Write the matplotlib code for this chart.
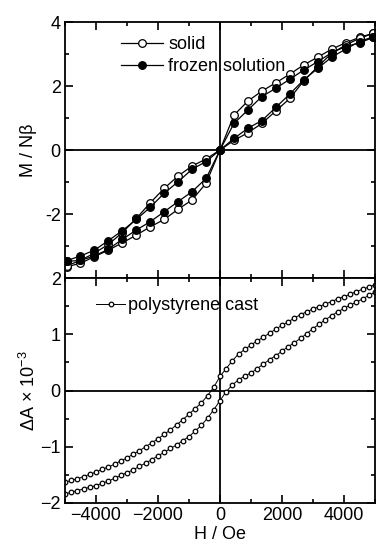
import matplotlib
matplotlib.use("Agg")
from matplotlib import pyplot as plt
from matplotlib.ticker import MultipleLocator
import numpy as np

plt.rcParams['font.family'] = ['Liberation Sans', 'DejaVu Sans']
plt.rcParams['mathtext.default'] = 'regular'

# magnetisation loops, field grid in Oe
H_top = [-4950, -4500, -4050, -3600, -3150, -2700, -2250, -1800, -1350, -900, -450, 0,
         450, 900, 1350, 1800, 2250, 2700, 3150, 3600, 4050, 4500, 4950]

solid_a = [-3.65, -3.54, -3.33, -3.13, -2.90, -2.66, -2.40, -2.17, -1.85, -1.56, -1.04, 0,
           1.09, 1.53, 1.84, 2.10, 2.37, 2.66, 2.90, 3.15, 3.35, 3.52, 3.65]
solid_b = [-3.62, -3.45, -3.22, -2.95, -2.58, -2.14, -1.65, -1.20, -0.81, -0.50, -0.28, 0,
           0.30, 0.54, 0.83, 1.22, 1.61, 2.16, 2.60, 3.02, 3.28, 3.49, 3.65]
frozen_a = [-3.48, -3.45, -3.31, -3.10, -2.79, -2.50, -2.24, -1.93, -1.61, -1.30, -0.89, 0,
            0.83, 1.25, 1.67, 1.93, 2.21, 2.50, 2.76, 3.04, 3.23, 3.35, 3.52]
frozen_b = [-3.46, -3.31, -3.13, -2.83, -2.52, -2.17, -1.79, -1.35, -0.99, -0.60, -0.36, 0,
            0.36, 0.68, 0.92, 1.33, 1.75, 2.19, 2.55, 2.90, 3.15, 3.39, 3.54]

# MCD loop of the polystyrene cast film
H_bot = list(range(-5000, 5001, 200))
cast_up = [-1.63, -1.60, -1.57, -1.53, -1.49, -1.45, -1.40, -1.36, -1.31, -1.25,
           -1.20, -1.13, -1.07, -1.00, -0.93, -0.86, -0.78, -0.70, -0.61, -0.52,
           -0.42, -0.32, -0.22, -0.09, 0.06, 0.25, 0.39, 0.53, 0.65, 0.73,
           0.81, 0.88, 0.95, 1.02, 1.09, 1.16, 1.22, 1.29, 1.35, 1.40,
           1.45, 1.49, 1.54, 1.58, 1.63, 1.67, 1.71, 1.76, 1.80, 1.84, 1.88]
cast_dn = [-1.84, -1.81, -1.78, -1.75, -1.72, -1.69, -1.65, -1.61, -1.56, -1.51,
           -1.46, -1.41, -1.35, -1.29, -1.23, -1.16, -1.10, -1.03, -0.97, -0.89,
           -0.82, -0.72, -0.62, -0.49, -0.34, -0.18, -0.02, 0.10, 0.19, 0.26,
           0.31, 0.39, 0.47, 0.55, 0.62, 0.70, 0.78, 0.85, 0.93, 1.01,
           1.10, 1.18, 1.26, 1.33, 1.40, 1.46, 1.52, 1.57, 1.63, 1.69, 1.75]

fig = plt.figure(figsize=(3.77, 5.49), dpi=100)
ax1 = fig.add_axes([0.1724, 0.4936, 0.8223, 0.4663])
ax2 = fig.add_axes([0.1724, 0.0838, 0.8223, 0.4098])

fs = 13
for ax in (ax1, ax2):
    ax.axhline(0, color='k', lw=1.3, zorder=1)
    ax.axvline(0, color='k', lw=1.3, zorder=1)
    ax.set_xlim(-5000, 5000)
    ax.xaxis.set_major_locator(MultipleLocator(2000))
    ax.xaxis.set_minor_locator(MultipleLocator(1000))
    ax.tick_params(which='both', direction='in', top=True, right=True,
                   width=1.2, labelsize=fs, pad=3)
    ax.tick_params(which='major', length=5.5)
    ax.tick_params(which='minor', length=3)
    for s in ax.spines.values():
        s.set_linewidth(1.3)

# top panel
mk = dict(color='k', lw=0.9, markersize=5.5, markeredgewidth=0.9)
ax1.plot(H_top, solid_a, marker='o', mfc='white', label='solid', **mk)
ax1.plot(H_top, solid_b, marker='o', mfc='white', **mk)
ax1.plot(H_top, frozen_a, marker='o', mfc='black', label='frozen solution', **mk)
ax1.plot(H_top, frozen_b, marker='o', mfc='black', **mk)
ax1.set_ylim(-4, 4)
ax1.yaxis.set_minor_locator(MultipleLocator(1))
ax1.set_yticks([-4, -2, 0, 2, 4])
ax1.set_yticklabels(['', '-2', '0', '2', '4'])
ax1.tick_params(labelbottom=False)
ax1.set_ylabel('M / N\u03b2', fontsize=fs, labelpad=6)
ax1.legend(loc='upper left', bbox_to_anchor=(0.135, 1.0), frameon=False,
           fontsize=fs, handlelength=2.3, handletextpad=0.3, labelspacing=0.25,
           borderpad=0.3)

# bottom panel
ax2.plot(H_bot, cast_up, marker='o', mfc='white', color='k', lw=0.7,
         markersize=3.3, markeredgewidth=0.9, label='polystyrene cast')
ax2.plot(H_bot, cast_dn, marker='o', mfc='white', color='k', lw=0.7,
         markersize=3.3, markeredgewidth=0.9)
ax2.set_ylim(-2, 2)
ax2.yaxis.set_major_locator(MultipleLocator(1))
ax2.yaxis.set_minor_locator(MultipleLocator(0.5))
ax2.set_xticks([-4000, -2000, 0, 2000, 4000])
ax2.set_ylabel('\u0394A \u00d7 10$^{-3}$', fontsize=fs, labelpad=1)
ax2.set_xlabel('H / Oe', fontsize=fs, labelpad=1)
ax2.legend(loc='upper left', bbox_to_anchor=(0.055, 0.98), frameon=False,
           fontsize=fs, handlelength=1.6, handletextpad=0.15, borderpad=0.3)

fig.savefig('out.png', dpi=100)
